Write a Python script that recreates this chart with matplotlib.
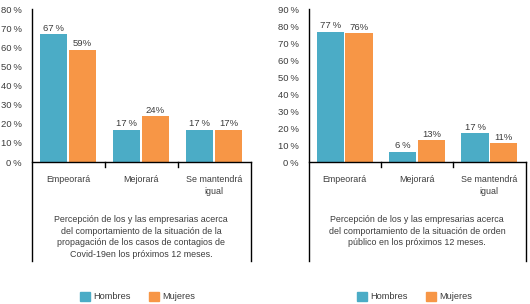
# two side-by-side bar charts: expectations of business owners by sex
import numpy as np
import matplotlib
matplotlib.use("Agg")
import matplotlib.pyplot as plt
from matplotlib.lines import Line2D

categorias = ["Empeorará", "Mejorará", "Se mantendrá\nigual"]
hombres_covid = [67, 17, 17]
mujeres_covid = [59, 24, 17]
etq_h_covid = ["67\u2009%", "17\u2009%", "17\u2009%"]
etq_m_covid = ["59%", "24%", "17%"]
hombres_orden = [77, 6, 17]
mujeres_orden = [76, 13, 11]
etq_h_orden = ["77\u2009%", "6\u2009%", "17\u2009%"]
etq_m_orden = ["76%", "13%", "11%"]
texto_covid = ("Percepción de los y las empresarias acerca\n"
               "del comportamiento de la situación de la\n"
               "propagación de los casos de contagios de\n"
               "Covid-19en los próximos 12 meses.")
texto_orden = ("Percepción de los y las empresarias acerca\n"
               "del comportamiento de la situación de orden\n"
               "público en los próximos 12 meses.")

C_H = "#4BACC6"
C_M = "#F79646"
TXT = "#3c3c3c"
FONT = ["Liberation Sans Narrow", "Liberation Sans", "DejaVu Sans"]
plt.rcParams["font.family"] = FONT

W, H = 530, 304
fig = plt.figure(figsize=(W / 100, H / 100), dpi=100)


def px(x0, y0, x1, y1):
    # pixel box (top-left origin) -> figure fraction rect
    return [x0 / W, 1 - y1 / H, (x1 - x0) / W, (y1 - y0) / H]


def fline(xs, ys):
    fig.add_artist(Line2D([x / W for x in xs], [1 - y / H for y in ys],
                          color="black", lw=1.0, transform=fig.transFigure))


def panel(x0, x1, ymax, h, m, eh, em, caption, cap_y, leg_x):
    ax = fig.add_axes(px(x0, 9.5, x1, 162))
    x = np.arange(len(categorias))
    bw = 0.375
    ax.bar(x - bw / 2 - 0.01, h, bw, color=C_H, label="Hombres")
    ax.bar(x + bw / 2 + 0.01, m, bw, color=C_M, label="Mujeres")
    for i in range(len(x)):
        ax.text(x[i] - bw / 2 - 0.01, h[i] + 0.8, eh[i], ha="center", va="bottom",
                fontsize=6.8, color=TXT)
        ax.text(x[i] + bw / 2 + 0.01, m[i] + 0.8, em[i], ha="center", va="bottom",
                fontsize=6.8, color=TXT)
    ax.set_xlim(-0.5, 2.5)
    ax.set_ylim(0, ymax)
    ax.set_yticks(range(0, ymax + 1, 10))
    ax.set_yticklabels([f"{v}\u2009%" for v in range(0, ymax + 1, 10)],
                       fontsize=6.8, color=TXT)
    ax.tick_params(axis="y", length=0, pad=6.8)
    ax.set_xticks([])
    for s in ["top", "right"]:
        ax.spines[s].set_visible(False)
    ax.spines["left"].set_visible(False)
    ax.spines["bottom"].set_linewidth(1.0)
    ax.set_facecolor("none")

    # frame below the axis and category separators
    fline([x0, x0], [9, 261])
    fline([x1, x1], [162, 261])
    step = (x1 - x0) / 3
    for k in (1, 2):
        fline([x0 + k * step] * 2, [162, 167])

    for i, c in enumerate(categorias):
        fig.text((x0 + (i + 0.5) * step) / W, 1 - 175.5 / H, c, ha="center", va="top",
                 fontsize=6.4, color=TXT, linespacing=1.3)
    fig.text((x0 + x1) / 2 / W, 1 - cap_y / H, caption, ha="center", va="top",
             fontsize=6.4, color=TXT, linespacing=1.36)

    # legend
    ly = 296.5
    for lx, col, lab in [(leg_x, C_H, "Hombres"), (leg_x + 69, C_M, "Mujeres")]:
        fig.patches.append(plt.Rectangle((lx / W, 1 - (ly + 4.5) / H), 10 / W, 9 / H,
                                         color=col, transform=fig.transFigure))
        fig.text((lx + 13) / W, 1 - ly / H, lab, ha="left", va="center",
                 fontsize=6.7, color=TXT)
    return ax


panel(31.5, 250.5, 80, hombres_covid, mujeres_covid, etq_h_covid, etq_m_covid,
      texto_covid, 215, 80)
panel(308.5, 525.5, 90, hombres_orden, mujeres_orden, etq_h_orden, etq_m_orden,
      texto_orden, 215, 357)

fig.savefig("out.png", dpi=100)
